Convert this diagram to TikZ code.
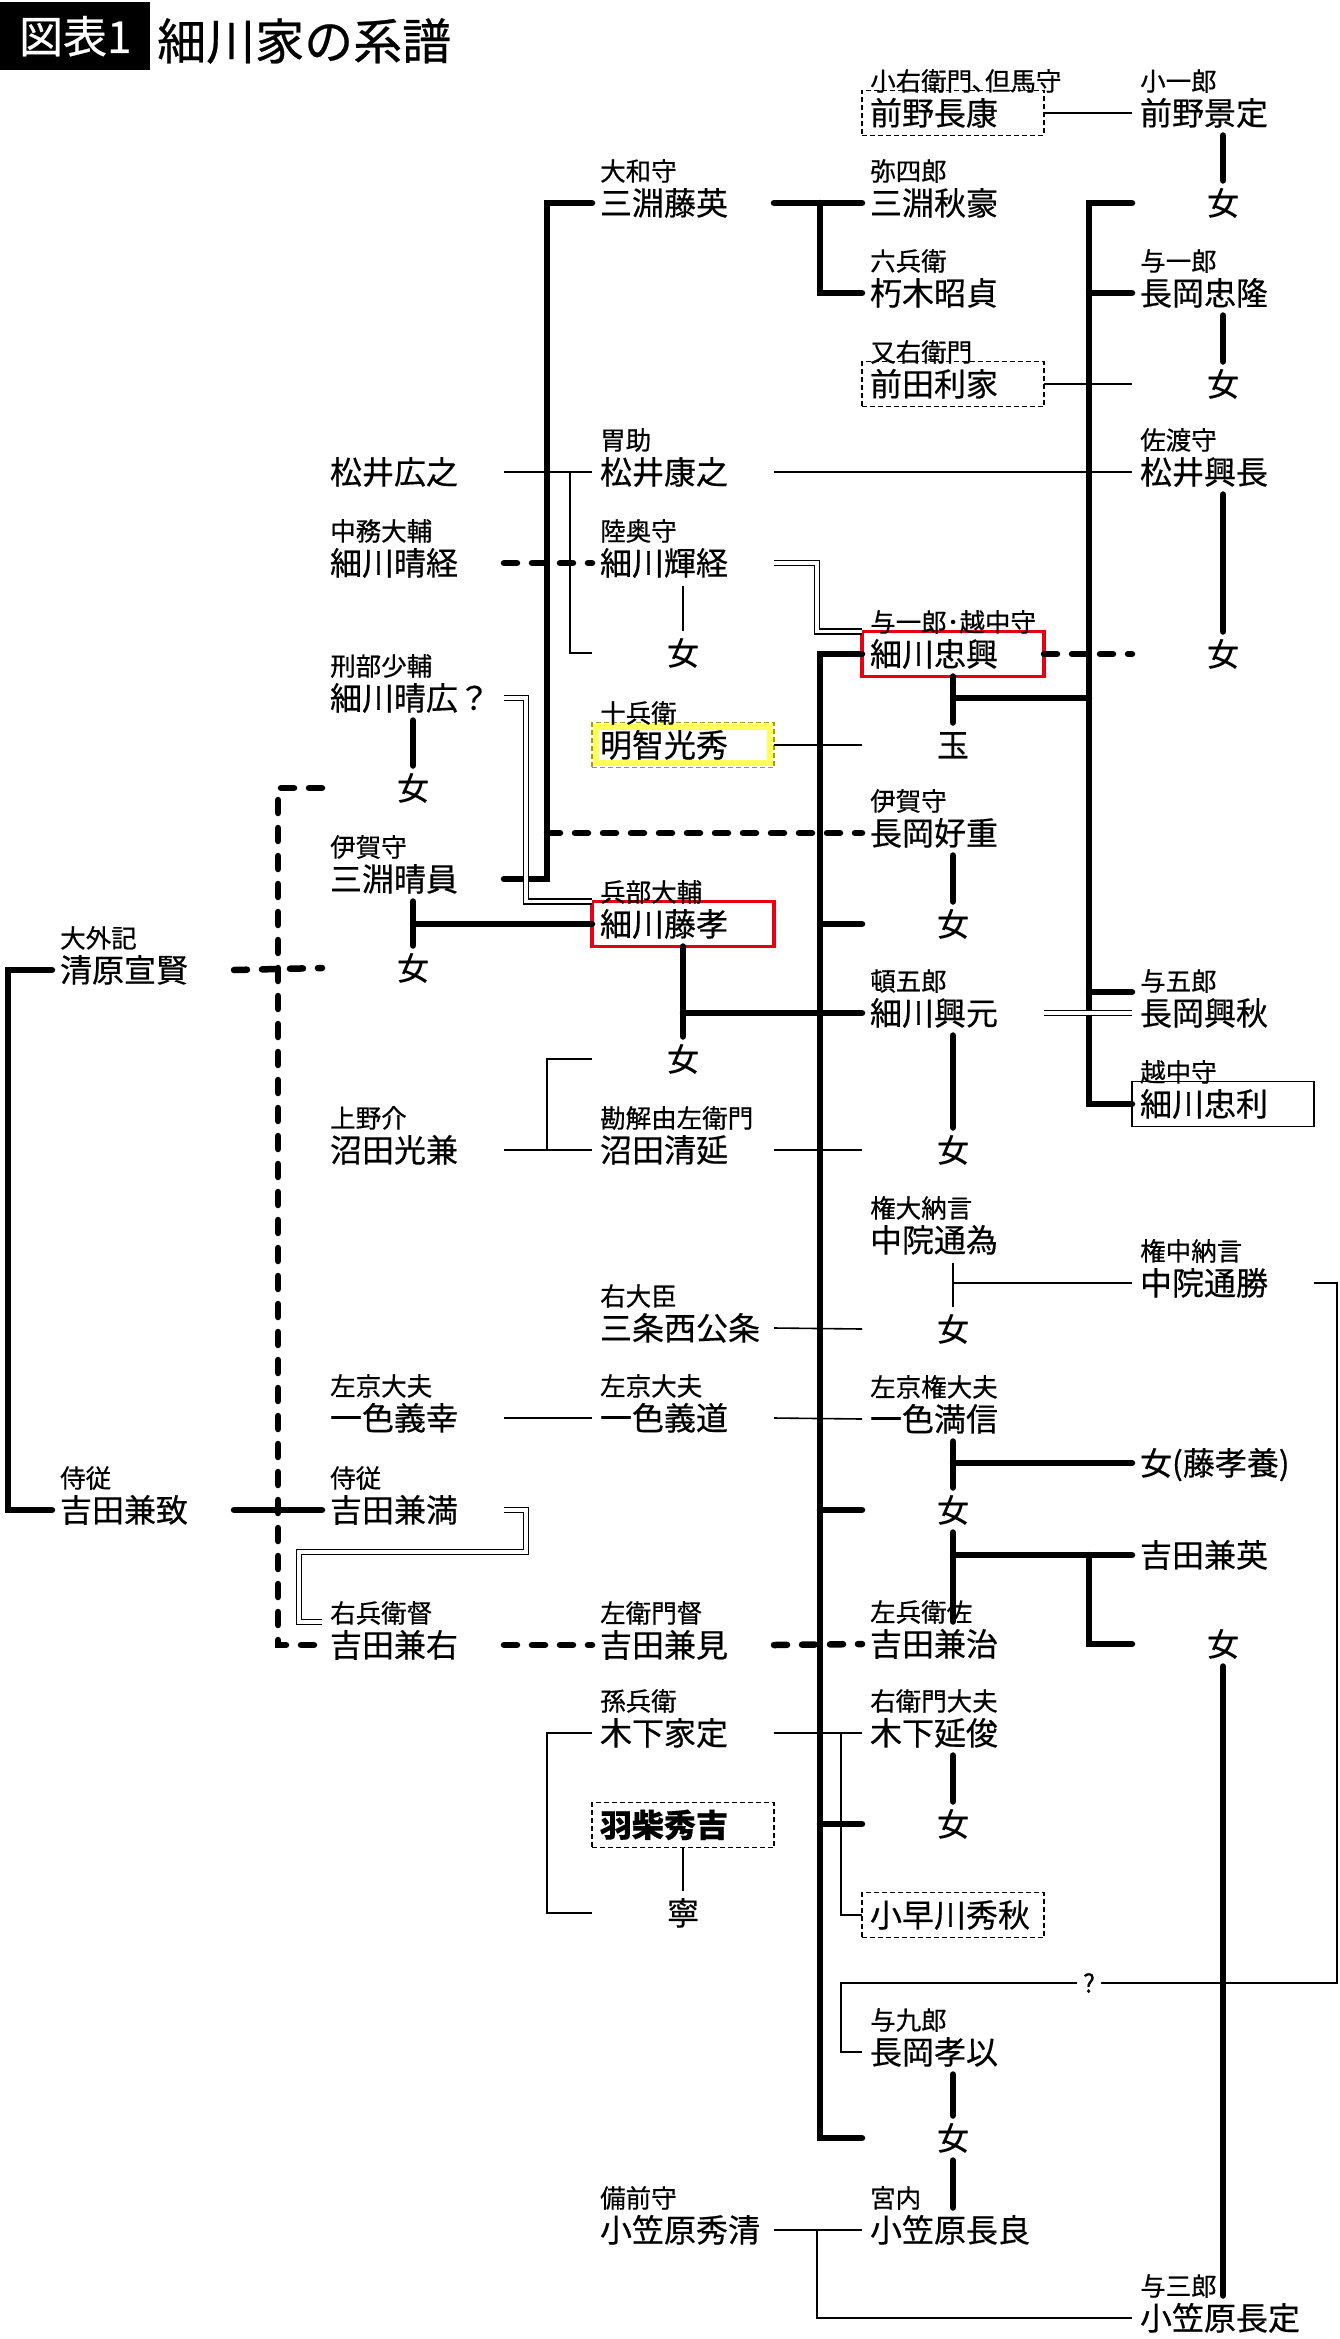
\documentclass[tikz,border=0pt]{standalone}
\usepackage{fontspec}
\setmainfont{Noto Sans CJK JP}[FakeBold=0.5]
\usetikzlibrary{calc}
\definecolor{redc}{HTML}{E60012}
\definecolor{ylw}{HTML}{FFFF5C}
\definecolor{ylwD}{HTML}{A8A000}
\newcommand\mainf{\fontsize{32}{32}\selectfont}
\newcommand\labf{\fontsize{25.5}{25.5}\selectfont}
\newcommand\titf{\fontsize{49}{49}\selectfont}
\newcommand\pn[5][nm]{\node[#1] (#2) at ({#3-8},#4) {#5};}
\newcommand\lb[4]{\node[lab] (#1l) at (#2,{#3-32}) {#4};}
\begin{document}
\begin{tikzpicture}[x=1pt,y=-1pt,
  nm/.style={anchor=west, inner xsep=8pt, inner ysep=6.5pt, outer sep=0pt, text width=166pt, align=left, font=\mainf, text height=28pt, text depth=4pt},
  jo/.style={nm, align=center},
  lab/.style={anchor=west, inner sep=0pt, font=\labf, text height=22.4pt, text depth=3.1pt},
  rbox/.style={nm, draw=redc, line width=3.8pt},
  kbox/.style={nm, draw=black, line width=1.6pt},
  dbox/.style={nm, draw=black, line width=1.6pt, dash pattern=on 5pt off 3pt},
  ybox/.style={nm, draw=ylwD, line width=1.6pt, dash pattern=on 5pt off 3pt},
  thk/.style={line width=6.5pt, line cap=round},
  dsh/.style={thk, dash pattern=on 13pt off 15pt},
  thn/.style={line width=1.6pt},
  dbl/.style={line width=1.4pt, double, double distance=3.4pt},
  qm/.style={font=\labf, fill=white, inner xsep=6pt, inner ysep=1pt}]
\fill[white] (0,0) rectangle (1340,2339);
\useasboundingbox (0,0) rectangle (1340,2339);
% title
\node[fill=black, text=white, anchor=north west, inner sep=0pt, minimum width=150pt, minimum height=68pt, font=\fontsize{44}{44}\selectfont] (ttlbox) at (0,2) {図表1};
\node[anchor=west, inner sep=0pt, font=\titf] (ttl) at (157,41) {細川家の系譜};
% columns
\coordinate (xL) at (8,0);
\coordinate (xB) at (278,0);
\coordinate (xDb) at (526,0);
\coordinate (vA) at (547,0);
\coordinate (xC2) at (570,0);
\coordinate (xD3) at (817,0);
\coordinate (xD) at (820,0);
\coordinate (xD2) at (841,0);
\coordinate (xE) at (1089,0);
\coordinate (xR) at (1337,0);
% col A
\pn{kiyo}{60}{970}{清原宣賢}\lb{kiyo}{60}{970}{大外記}
\pn{kanechi}{60}{1510}{吉田兼致}\lb{kanechi}{60}{1510}{侍従}
% col B
\pn{mhiro}{330}{472}{松井広之}
\pn{hharu}{330}{563}{細川晴経}\lb{hharu}{330}{563}{中務大輔}
\pn{hhiro}{330}{698}{細川晴広？}\lb{hhiro}{330}{698}{刑部少輔}
\pn[jo]{jB1}{330}{788}{女}
\pn{mharu}{330}{879}{三淵晴員}\lb{mharu}{330}{879}{伊賀守}
\pn[jo]{jB2}{330}{968}{女}
\pn{numaM}{330}{1150}{沼田光兼}\lb{numaM}{330}{1150}{上野介}
\pn{isY}{330}{1418}{一色義幸}\lb{isY}{330}{1418}{左京大夫}
\pn{ykm}{330}{1510}{吉田兼満}\lb{ykm}{330}{1510}{侍従}
\pn{ykmi}{330}{1645}{吉田兼右}\lb{ykmi}{330}{1645}{右兵衛督}
% col C
\pn{mfuji}{600}{203}{三淵藤英}\lb{mfuji}{600}{203}{大和守}
\pn{myasu}{600}{472}{松井康之}\lb{myasu}{600}{472}{胃助}
\pn{hteru}{600}{563}{細川輝経}\lb{hteru}{600}{563}{陸奥守}
\pn[jo]{jC1}{600}{653}{女}
\pn[ybox]{akechi}{600}{745}{明智光秀}
\draw[ylw, line width=6pt] ([shift={(4.4pt,-4.4pt)}]akechi.north west) rectangle ([shift={(-4.4pt,4.4pt)}]akechi.south east);
\lb{akechi}{600}{745}{十兵衛}
\pn[rbox]{fujitaka}{600}{924}{細川藤孝}\lb{fujitaka}{600}{924}{兵部大輔}
\pn[jo]{jC2}{600}{1059}{女}
\pn{numaK}{600}{1150}{沼田清延}\lb{numaK}{600}{1150}{勘解由左衛門}
\pn{sanjo}{600}{1328}{三条西公条}\lb{sanjo}{600}{1328}{右大臣}
\pn{isM}{600}{1418}{一色義道}\lb{isM}{600}{1418}{左京大夫}
\pn{ykmiru}{600}{1645}{吉田兼見}\lb{ykmiru}{600}{1645}{左衛門督}
\pn{kinoI}{600}{1733}{木下家定}\lb{kinoI}{600}{1733}{孫兵衛}
\pn[dbox,font=\mainf\bfseries]{hashiba}{600}{1825}{羽柴秀吉}
\pn[jo]{nei}{600}{1913}{寧}
\pn{ogaH}{600}{2230}{小笠原秀清}\lb{ogaH}{600}{2230}{備前守}
% col D
\pn[dbox]{maenoN}{870}{113}{前野長康}\lb{maenoN}{870}{113}{小右衛門､但馬守}
\pn{makiA}{870}{203}{三淵秋豪}\lb{makiA}{870}{203}{弥四郎}
\pn{kutsuki}{870}{293}{朽木昭貞}\lb{kutsuki}{870}{293}{六兵衛}
\pn[dbox]{maeda}{870}{384}{前田利家}\lb{maeda}{870}{384}{又右衛門}
\pn[rbox]{tadaoki}{870}{654}{細川忠興}\lb{tadaoki}{870}{654}{与一郎･越中守}
\pn[jo]{tama}{870}{745}{玉}
\pn{nagaY}{870}{833}{長岡好重}\lb{nagaY}{870}{833}{伊賀守}
\pn[jo]{jD1}{870}{924}{女}
\pn{okimoto}{870}{1013}{細川興元}\lb{okimoto}{870}{1013}{頓五郎}
\pn[jo]{jD2}{870}{1150}{女}
\pn{nakaT}{870}{1240}{中院通為}\lb{nakaT}{870}{1240}{権大納言}
\pn[jo]{jD3}{870}{1329}{女}
\pn{isMi}{870}{1419}{一色満信}\lb{isMi}{870}{1419}{左京権大夫}
\pn[jo]{jD4}{870}{1510}{女}
\pn{ykh}{870}{1644}{吉田兼治}\lb{ykh}{870}{1644}{左兵衛佐}
\pn{kinoN}{870}{1733}{木下延俊}\lb{kinoN}{870}{1733}{右衛門大夫}
\pn[jo]{jD5}{870}{1824}{女}
\pn[dbox]{kobaya}{870}{1915}{小早川秀秋}
\pn{nagaT}{870}{2052}{長岡孝以}\lb{nagaT}{870}{2052}{与九郎}
\pn[jo]{jD6}{870}{2138}{女}
\pn{ogaN}{870}{2230}{小笠原長良}\lb{ogaN}{870}{2230}{宮内}
% col E
\pn{maenoK}{1140}{113}{前野景定}\lb{maenoK}{1140}{113}{小一郎}
\pn[jo]{jE1}{1140}{203}{女}
\pn{nagaTd}{1140}{293}{長岡忠隆}\lb{nagaTd}{1140}{293}{与一郎}
\pn[jo]{jE2}{1140}{384}{女}
\pn{matsuiO}{1140}{472}{松井興長}\lb{matsuiO}{1140}{472}{佐渡守}
\pn[jo]{jE3}{1140}{654}{女}
\pn{nagaO}{1140}{1013}{長岡興秋}\lb{nagaO}{1140}{1013}{与五郎}
\pn[kbox]{tadatoshi}{1140}{1104}{細川忠利}\lb{tadatoshi}{1140}{1104}{越中守}
\pn{nakaK}{1140}{1283}{中院通勝}\lb{nakaK}{1140}{1283}{権中納言}
\pn{jE4}{1140}{1463}{女(藤孝養)}
\pn{ykei}{1140}{1555}{吉田兼英}
\pn[jo]{jE5}{1140}{1644}{女}
\pn{ogaS}{1140}{2318}{小笠原長定}\lb{ogaS}{1140}{2318}{与三郎}
% thick lines
\draw[thk] (mharu.east) -- (mharu.east -| vA) -- (mfuji.west -| vA) -- (mfuji.west);
\draw[thk] (mfuji.east) -- (makiA.west);
\draw[thk] (makiA.west -| xD) |- (kutsuki.west);
\draw[thk] (maenoK.south) -- (jE1.north);
\draw[thk] (nagaTd.south) -- (jE2.north);
\draw[thk] (matsuiO.south) -- (jE3.north);
\draw[thk] (jE1.west) -- (jE1.west -| xE) -- (tadatoshi.west -| xE) -- (tadatoshi.west);
\draw[thk] (nagaTd.west -| xE) -- (nagaTd.west);
\coordinate (okB) at (1132,992);
\draw[thk] (okB -| xE) -- (okB);
\coordinate (tj) at (953,698);
\draw[thk] (tadaoki.south) -- (tama.north);
\draw[thk] (tj) -- (tj -| xE);
\draw[thk] (tadaoki.west) -- (tadaoki.west -| xD) -- (jD6.west -| xD) -- (jD6.west);
\draw[thk] (jD1.west -| xD) -- (jD1.west);
\draw[thk] (jD4.west -| xD) -- (jD4.west);
\draw[thk] (jD5.west -| xD) -- (jD5.west);
\draw[thk] (nagaY.south) -- (jD1.north);
\draw[thk] (fujitaka.south) -- (jC2.north);
\draw[thk] (fujitaka.south |- okimoto.west) -- (okimoto.west);
\draw[thk] (okimoto.south) -- (jD2.north);
\draw[thk] (hhiro.south) -- (jB1.north);
\draw[thk] (mharu.south) -- (jB2.north);
\draw[thk] (mharu.south |- fujitaka.west) -- (fujitaka.west);
\draw[thk] (kiyo.west) -- (kiyo.west -| xL) -- (kanechi.west -| xL) -- (kanechi.west);
\draw[thk] (kanechi.east) -- (ykm.west);
\draw[thk] (isMi.south) -- (jD4.north);
\draw[thk] (isMi.south |- jE4.west) -- (jE4.west);
\draw[thk] (jD4.south) -- (ykh.north);
\draw[thk] (jD4.south |- ykei.west) -- (ykei.west);
\draw[thk] (ykei.west -| xE) |- (jE5.west);
\draw[thk] (jE5.south) -- (ogaS.north);
\draw[thk] (kinoN.south) -- (jD5.north);
\draw[thk] (nagaT.south) -- (jD6.north);
\draw[thk] (jD6.south) -- (ogaN.north);
% dashed thick lines
\draw[dsh] (hharu.east) -- (hteru.west);
\draw[dsh] (tadaoki.east) -- (jE3.west);
\draw[dsh] (nagaY.west -| vA) -- (nagaY.west);
\draw[dsh] (kiyo.east) -- (jB2.west);
\draw[dsh] (jB1.west) -- (jB1.west -| xB) -- (ykmi.west -| xB) -- (ykmi.west);
\draw[dsh] (ykmi.east) -- (ykmiru.west);
\draw[dsh] (ykmiru.east) -- (ykh.west);
% thin lines
\draw[thn] (mhiro.east) -- (myasu.west);
\draw[thn] (myasu.east) -- (matsuiO.west);
\draw[thn] (myasu.west -| xC2) |- (jC1.west);
\draw[thn] (hteru.south) -- (jC1.north);
\draw[thn] (maenoN.east) -- (maenoK.west);
\draw[thn] (maeda.east) -- (jE2.west);
\draw[thn] (akechi.east) -- (tama.west);
\draw[thn] (numaM.east) -- (numaK.west);
\draw[thn] (numaK.west -| vA) |- (jC2.west);
\draw[thn] (numaK.east) -- (jD2.west);
\draw[thn] (sanjo.east) -- (jD3.west);
\draw[thn] (isY.east) -- (isM.west);
\draw[thn] (isM.east) -- (isMi.west);
\draw[thn] (nakaT.south) -- (jD3.north);
\draw[thn] (nakaT.south |- nakaK.west) -- (nakaK.west);
\draw[thn] (kinoI.east) -- (kinoN.west);
\draw[thn] (kinoN.west -| xD2) |- (kobaya.west);
\draw[thn] (kinoI.west) -- (kinoI.west -| vA) |- (nei.west);
\draw[thn] (hashiba.south) -- (nei.north);
\draw[thn] (ogaH.east) -- (ogaN.west);
\draw[thn] (ogaN.west -| xD3) |- (ogaS.west);
\node[qm] (q) at (1089,1983) {?};
\draw[thn] (nakaK.east) -| (xR |- q.east) -- (q.east);
\draw[thn] (q.west) -- (q.west -| xD2) |- (nagaT.west);
% double lines
\coordinate (d1) at (526,1552);
\coordinate (d2) at (299,1622);
\draw[dbl] (hteru.east) -| (xD3 |- tadaoki.north) -- (tadaoki.north west);
\draw[dbl] (hhiro.east) -| (xDb |- fujitaka.north) -- (fujitaka.north west);
\draw[dbl] (ykm.east) -| (d1) -| (d2) -- (d2 -| ykmi.west);
\draw[dbl] (okimoto.east) -- (nagaO.west);
\end{tikzpicture}
\end{document}
